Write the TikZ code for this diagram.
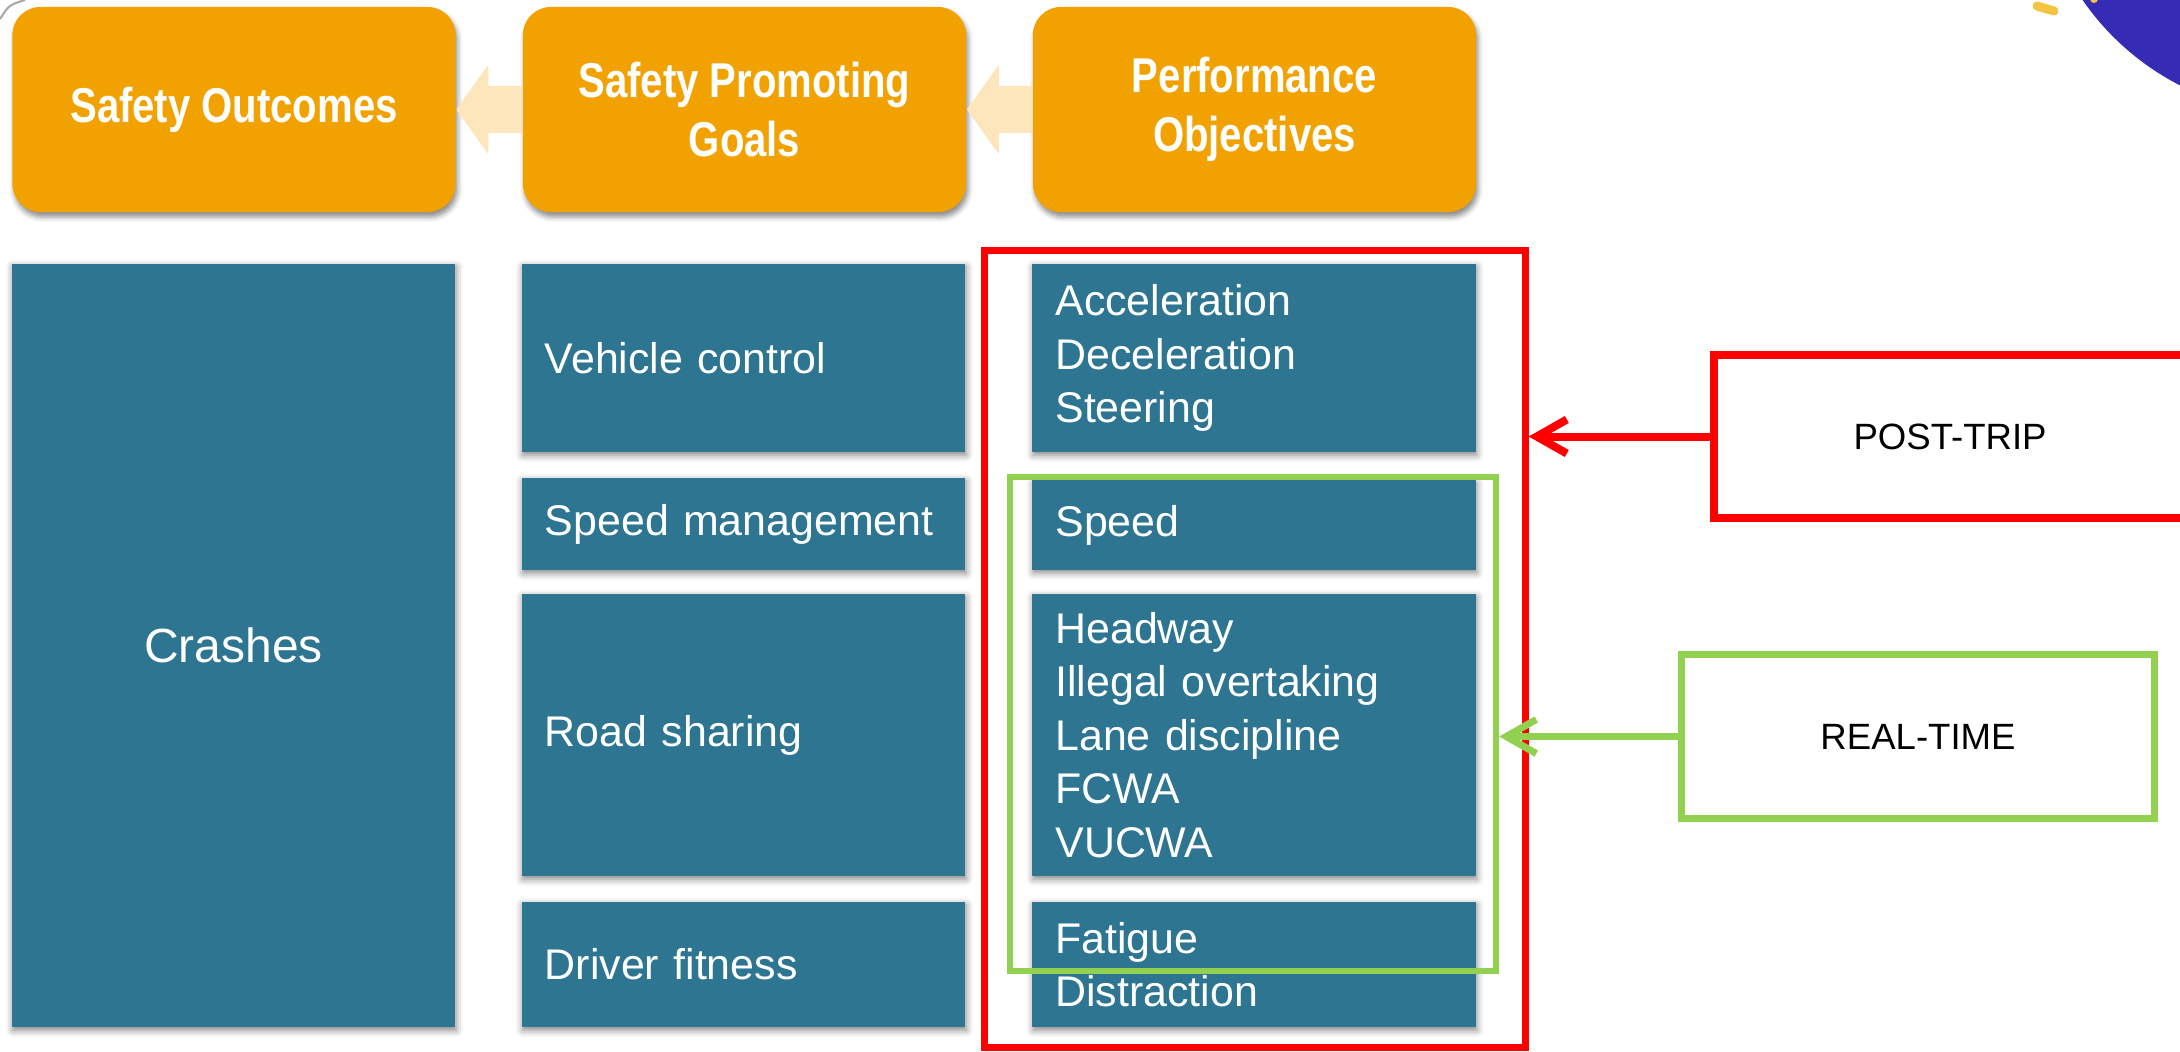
\documentclass[tikz,border=0pt]{standalone}
\usepackage{fontspec}
\setmainfont{Liberation Sans}
\newfontface\headfont[FakeStretch=0.82]{Liberation Sans Bold}
\usepackage{xcolor}
\usepackage{tikz}
\usetikzlibrary{arrows.meta,shadows.blur}

\definecolor{orangebox}{RGB}{242,162,0}
\definecolor{bluebox}{RGB}{45,117,145}
\definecolor{peach}{RGB}{253,229,188}
\definecolor{framegreen}{RGB}{146,208,80}
\definecolor{circleblue}{RGB}{54,43,181}
\definecolor{dashyellow}{RGB}{245,196,64}

\tikzset{
  head/.style={fill=orangebox, text=white, rounded corners=0.28cm, minimum width=4.43cm,
    minimum height=2.05cm, align=center, font=\headfont\fontsize{13.9}{16.8}\selectfont,
    blur shadow={shadow xshift=0.02cm, shadow yshift=-0.05cm, shadow blur radius=0.05cm, shadow opacity=45}},
  cell/.style={fill=bluebox, text=white, text width=3.97cm, inner xsep=0.23cm, inner ysep=0pt,
    align=left, font=\fontsize{12.2}{15.25}\selectfont,
    blur shadow={shadow xshift=0.01cm, shadow yshift=-0.03cm, shadow blur radius=0.07cm, shadow opacity=50}},
  frame/.style={draw=#1, line width=0.07cm, inner sep=0pt},
  tag/.style={draw=#1, line width=0.08cm, minimum width=4.72cm, minimum height=1.63cm, font=\fontsize{10.4}{12}\selectfont},
  fat/.style={color=peach, line width=0.46cm, -{Triangle[length=0.32cm,width=0.88cm,fill=peach]}},
  barb/.style={color=#1, line width=0.08cm, -{Straight Barb[length=0.3cm,width=0.34cm]}}
}

\begin{document}
\begin{tikzpicture}[x=0.01cm,y=-0.01cm]
\useasboundingbox (0,0) rectangle (2180,1051);
\clip (0,0) rectangle (2180,1051);

% corner decorations
\fill[circleblue] (2300,-150) circle[radius=2.64cm];
\draw[dashyellow, line width=0.09cm, line cap=round] (2037,6) -- (2054,11);
\fill[dashyellow] (2094,-1) circle[radius=0.04cm];
\draw[gray!70, line width=0.02cm] (0,19) .. controls (9,5) .. (25,0);

% headings
\node[head] (SO) at (234,109.5)    {Safety Outcomes};
\node[head] (SG) at (744.5,109.5)  {Safety Promoting\\Goals};
\node[head] (PO) at (1254.5,109.5) {Performance\\Objectives};

\path[fat] (SG) edge (SO)
           (PO) edge (SG);

% outcomes and goals
\node[cell, align=center, minimum height=7.63cm, font=\fontsize{13.65}{16}\selectfont] (CR) at (233.5,645.5) {Crashes};
\node[cell, minimum height=1.88cm] (VC) at (743.5,358)   {Vehicle control};
\node[cell, minimum height=0.92cm] (SM) at (743.5,524)   {Speed management};
\node[cell, minimum height=2.82cm] (RS) at (743.5,735)   {Road sharing};
\node[cell, minimum height=1.25cm] (DF) at (743.5,964.5) {Driver fitness};

% objectives
\node[cell, minimum height=1.88cm] (ADS) at (1254,358)   {Acceleration\\Deceleration\\Steering};
\node[cell, minimum height=0.89cm] (SP)  at (1254,525)   {Speed};
\node[cell, minimum height=2.82cm] (HW)  at (1254,735)   {Headway\\Illegal overtaking\\Lane discipline\\FCWA\\VUCWA};
\node[cell, minimum height=1.25cm] (FD)  at (1254,964.5) {Fatigue\\Distraction};

% groupings
\node[frame=red, minimum width=5.40cm, minimum height=7.96cm] (RED) at (1255,649) {};
\node[frame=framegreen, line width=0.065cm, minimum width=4.855cm, minimum height=4.935cm] (GRN) at (1253,724) {};

\node[tag=red] (PT) at (1950,436.5) {POST-TRIP};
\node[tag=framegreen, line width=0.07cm] (RT) at (1918,736.5) {REAL-TIME};

\draw[barb=red] (PT) -- (PT -| RED.east);
\draw[barb=framegreen, line width=0.07cm] (RT) -- (RT -| GRN.east);

\end{tikzpicture}
\end{document}
